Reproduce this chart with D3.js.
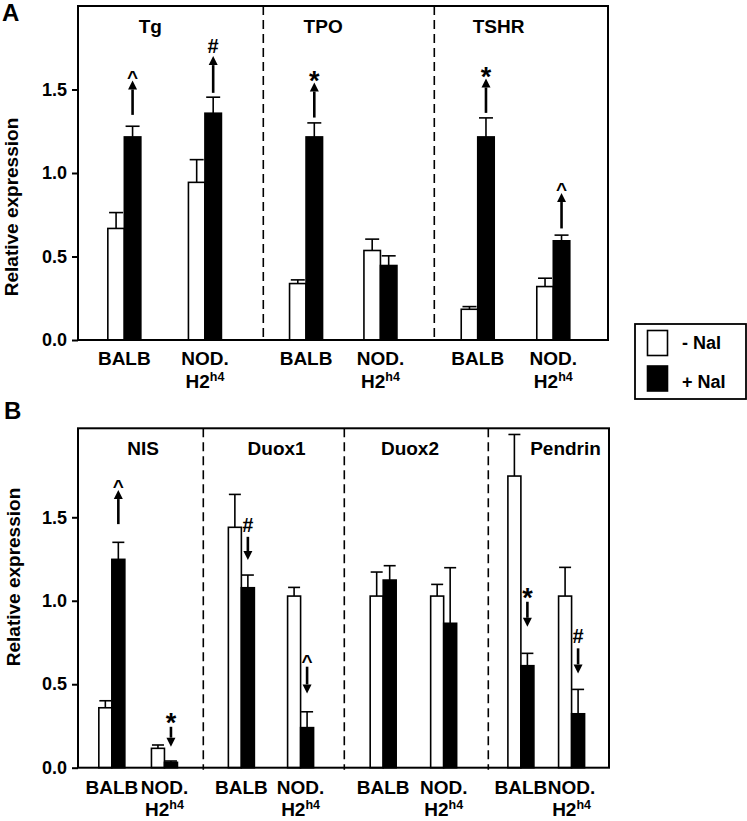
<!DOCTYPE html>
<html>
<head>
<meta charset="utf-8">
<script src="https://cdn.jsdelivr.net/npm/d3@7/dist/d3.min.js"></script>
<style>
  html, body { margin: 0; padding: 0; background: #fff; }
  svg { display: block; }
  text { font-family: Arial, "Liberation Sans", Helvetica, sans-serif; font-weight: bold; fill: #000; }
</style>
</head>
<body>
<svg id="chart" width="747" height="821"></svg>
<script>
// ---------------- DATA ----------------
const strains = ["BALB", "NOD."];
const seriesNames = ["- NaI", "+ NaI"];
const yTicks = [0, 0.5, 1.0, 1.5];

// Panel A
const genesA = ["Tg", "TPO", "TSHR"];
// order: Tg-BALB, Tg-NOD, TPO-BALB, TPO-NOD, TSHR-BALB, TSHR-NOD
const minusNaI_A = [0.668, 0.944, 0.338, 0.536, 0.184, 0.320];
const minusErr_A = [0.095, 0.136, 0.022, 0.068, 0.016, 0.050];
const plusNaI_A  = [1.216, 1.358, 1.216, 0.446, 1.216, 0.594];
const plusErr_A  = [0.064, 0.096, 0.084, 0.058, 0.114, 0.034];
// significance arrows: [gene index, strain index, from value, to value, symbol]
const arrowsA = [
  [0, 0, 1.348, 1.554, "^"],
  [0, 1, 1.480, 1.700, "#"],
  [1, 0, 1.332, 1.542, "*"],
  [2, 0, 1.360, 1.566, "*"],
  [2, 1, 0.668, 0.880, "^"]
];

// Panel B
const genesB = ["NIS", "Duox1", "Duox2", "Pendrin"];
const minusNaI_B = [0.359, 0.116, 1.440, 1.028, 1.028, 1.028, 1.747, 1.028];
const minusErr_B = [0.042, 0.020, 0.197, 0.052, 0.144, 0.070, 0.249, 0.172];
const plusNaI_B  = [1.248, 0.032, 1.078, 0.240, 1.124, 0.865, 0.611, 0.323];
const plusErr_B  = [0.102, 0.008, 0.076, 0.095, 0.086, 0.333, 0.074, 0.146];
const arrowsB = [
  [0, 0, 1.459, 1.663, "^"],
  [0, 1, 0.245, 0.126, "*"],
  [1, 0, 1.383, 1.244, "#"],
  [1, 1, 0.605, 0.445, "^"],
  [3, 0, 0.994, 0.844, "*"],
  [3, 1, 0.715, 0.565, "#"]
];

// ---------------- LAYOUT ----------------
const panels = [
  {
    letter: "A", letterX: 2, letterY: 21,
    genes: genesA, minus: minusNaI_A, minusErr: minusErr_A, plus: plusNaI_A, plusErr: plusErr_A, arrows: arrowsA,
    left: 78, right: 608, top: 6, bottom: 340, yMax: 2.0,
    edges: [78, 263.3, 434.3, 608],
    groupFrac: [0.25, 0.685],
    titleFrac: [0.39, 0.35, 0.37], titleY: 33,
    barW: 16.5, capW: 14,
    lab1: 365, lab2: 388,
    yTitleX: 18, yTitleY: 207
  },
  {
    letter: "B", letterX: 4, letterY: 419,
    genes: genesB, minus: minusNaI_B, minusErr: minusErr_B, plus: plusNaI_B, plusErr: plusErr_B, arrows: arrowsB,
    left: 78, right: 609, top: 428.3, bottom: 767.7, yMax: 2.033,
    edges: [78, 203.3, 344.3, 488.3, 609],
    groupFrac: [0.27, 0.69],
    titleFrac: [0.52, 0.52, 0.456, 0.64], titleY: 455,
    barW: 13, capW: 12,
    lab1: 794, lab2: 816,
    yTitleX: 20, yTitleY: 577
  }
];

const svg = d3.select("#chart");
svg.append("rect").attr("width", 747).attr("height", 821).attr("fill", "#fff");

const symStyle = {
  "*": { size: 27, bottom: 0.39 },
  "#": { size: 20, bottom: 0.0 },
  "^": { size: 19, bottom: 0.33 }
};

panels.forEach(p => {
  const g = svg.append("g");
  const y = d3.scaleLinear().domain([0, p.yMax]).range([p.bottom, p.top]);
  const sec = d3.scaleLinear().domain(d3.range(p.genes.length + 1)).range(p.edges);
  const cx = (gi, si) => sec(gi + p.groupFrac[si]);

  // dashed dividers
  g.selectAll("line.div").data(d3.range(1, p.genes.length)).join("line")
    .attr("x1", d => sec(d)).attr("x2", d => sec(d))
    .attr("y1", p.top).attr("y2", p.bottom + 2)
    .attr("stroke", "#000").attr("stroke-width", 1.6).attr("stroke-dasharray", "9,5");

  // bar records
  const recs = [];
  p.genes.forEach((gene, gi) => {
    strains.forEach((s, si) => {
      const i = gi * strains.length + si;
      recs.push({ gi, si, series: 0, v: p.minus[i], e: p.minusErr[i] });
      recs.push({ gi, si, series: 1, v: p.plus[i], e: p.plusErr[i] });
    });
  });
  const barX = d => d.series === 0 ? cx(d.gi, d.si) - p.barW : cx(d.gi, d.si);
  const barC = d => barX(d) + p.barW / 2;

  // error bars (upper only)
  const eg = g.append("g").attr("stroke", "#000").attr("stroke-width", 1.6);
  eg.selectAll("line.ev").data(recs).join("line")
    .attr("x1", barC).attr("x2", barC)
    .attr("y1", d => y(d.v)).attr("y2", d => y(d.v + d.e));
  eg.selectAll("line.ec").data(recs).join("line")
    .attr("x1", d => barC(d) - p.capW / 2).attr("x2", d => barC(d) + p.capW / 2)
    .attr("y1", d => y(d.v + d.e)).attr("y2", d => y(d.v + d.e));

  // bars
  g.selectAll("rect.bar").data(recs).join("rect")
    .attr("x", barX).attr("width", p.barW)
    .attr("y", d => y(d.v)).attr("height", d => y(0) - y(d.v))
    .attr("fill", d => d.series === 0 ? "#fff" : "#000")
    .attr("stroke", "#000").attr("stroke-width", 1.6);

  // frame
  g.append("rect").attr("x", p.left).attr("y", p.top)
    .attr("width", p.right - p.left).attr("height", p.bottom - p.top)
    .attr("fill", "none").attr("stroke", "#000").attr("stroke-width", 2);

  // y axis
  const ax = g.append("g").attr("transform", `translate(${p.left},0)`)
    .call(d3.axisLeft(y).tickValues(yTicks).tickFormat(d3.format(".1f")).tickSize(6).tickSizeOuter(0).tickPadding(5));
  ax.select(".domain").remove();
  ax.selectAll(".tick line").attr("stroke", "#000").attr("stroke-width", 2);
  ax.selectAll(".tick text").attr("font-size", 18).attr("font-family", "Arial, 'Liberation Sans', sans-serif")
    .attr("font-weight", "bold").attr("fill", "#000");

  // y title
  g.append("text")
    .attr("transform", `translate(${p.yTitleX},${p.yTitleY}) rotate(-90)`)
    .attr("text-anchor", "middle").attr("font-size", 19)
    .text("Relative expression");

  // panel letter
  g.append("text").attr("x", p.letterX).attr("y", p.letterY)
    .attr("font-size", 24).text(p.letter);

  // gene titles
  g.selectAll("text.title").data(p.genes).join("text")
    .attr("x", (d, i) => sec(i + p.titleFrac[i])).attr("y", p.titleY)
    .attr("text-anchor", "middle").attr("font-size", 19)
    .text(d => d);

  // x labels
  p.genes.forEach((gene, gi) => {
    strains.forEach((s, si) => {
      g.append("text").attr("x", cx(gi, si)).attr("y", p.lab1)
        .attr("text-anchor", "middle").attr("font-size", 19).text(s);
      if (si === 1) {
        const t = g.append("text").attr("x", cx(gi, si)).attr("y", p.lab2)
          .attr("text-anchor", "middle").attr("font-size", 19);
        t.append("tspan").text("H2");
        t.append("tspan").attr("font-size", 12.5).attr("dy", -7).text("h4");
      }
    });
  });

  // arrows + symbols
  const headL = 9, headW = 4.5;
  p.arrows.forEach(([gi, si, from, to, sym]) => {
    const x = cx(gi, si) + p.barW / 2;
    const y0 = y(from), y1 = y(to);
    const dir = y1 < y0 ? -1 : 1; // -1 = up
    g.append("line").attr("x1", x).attr("x2", x)
      .attr("y1", y0).attr("y2", y1 - dir * headL)
      .attr("stroke", "#000").attr("stroke-width", 2.6);
    g.append("path")
      .attr("d", `M${x},${y1} L${x - headW},${y1 - dir * headL} L${x + headW},${y1 - dir * headL} Z`)
      .attr("fill", "#000");
    const st = symStyle[sym];
    const topY = Math.min(y0, y1);
    const gap = dir < 0 ? 3 : 5;
    g.append("text").attr("x", x).attr("y", topY - gap + st.bottom * st.size)
      .attr("text-anchor", "middle").attr("font-size", st.size).text(sym);
  });
});

// ---------------- LEGEND ----------------
const lg = svg.append("g");
lg.append("rect").attr("x", 635).attr("y", 324).attr("width", 111).attr("height", 75)
  .attr("fill", "#fff").attr("stroke", "#000").attr("stroke-width", 1.8);
seriesNames.forEach((name, i) => {
  lg.append("rect").attr("x", 647.5).attr("y", 330.5 + i * 35.5).attr("width", 20).attr("height", 25)
    .attr("fill", i === 0 ? "#fff" : "#000").attr("stroke", "#000").attr("stroke-width", 1.6);
  lg.append("text").attr("x", 682).attr("y", 349 + i * 39).attr("font-size", 18).text(name);
});
</script>
</body>
</html>
